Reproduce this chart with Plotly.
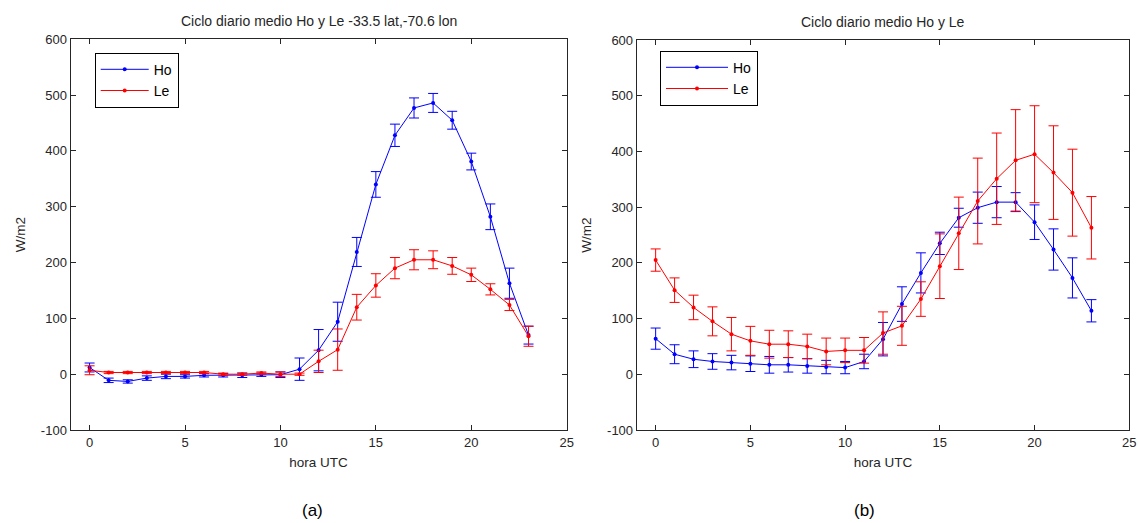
import plotly.graph_objects as go

hours = list(range(24))

# Panel (a)
ho_a = [12, -11, -13, -7, -4, -4, -2, -2, -2, -1, -1, 9, 43, 94, 219, 340, 428, 477, 486, 455, 381, 282, 163, 70]
ho_a_err = [8, 4, 3, 4, 4, 3, 3, 3, 4, 3, 5, 20, 37, 35, 26, 23, 20, 18, 17, 16, 15, 23, 27, 16]
le_a = [7, 3, 3, 3, 3, 3, 3, 0, 0, 2, 0, 0, 23, 44, 120, 159, 190, 205, 205, 194, 178, 152, 124, 68]
le_a_err = [8, 2, 2, 2, 2, 2, 2, 2, 2, 2, 4, 2, 20, 37, 23, 21, 19, 18, 16, 15, 12, 10, 10, 18]

# Panel (b)
ho_b = [64, 36, 27, 23, 21, 19, 17, 17, 15, 13, 12, 23, 63, 126, 182, 235, 281, 299, 309, 309, 273, 224, 173, 114]
ho_b_err = [19, 17, 15, 14, 13, 14, 15, 13, 13, 12, 11, 13, 30, 31, 36, 20, 17, 28, 28, 17, 31, 37, 36, 20]
le_b = [205, 151, 120, 95, 72, 60, 54, 54, 50, 41, 43, 43, 74, 87, 135, 194, 253, 311, 351, 384, 395, 362, 326, 263]
le_b_err = [20, 22, 22, 26, 30, 26, 25, 24, 22, 24, 22, 23, 38, 35, 31, 58, 65, 77, 82, 91, 87, 84, 78, 56]

titles = ["Ciclo diario medio Ho y Le -33.5 lat,-70.6 lon", "Ciclo diario medio Ho y Le"]
x_ticks = [0, 5, 10, 15, 20, 25]
y_ticks = [-100, 0, 100, 200, 300, 400, 500, 600]
y_ticktext = [str(v) for v in y_ticks]

BLUE = "#0000ff"
RED = "#ff0000"
AXC = "#262626"
FONT = "Liberation Sans, Arial, sans-serif"
W, H = 1138, 523

fig = go.Figure()

def add_series(x, y, err, color, name, xa, ya, legend):
    fig.add_trace(go.Scatter(
        x=x, y=y, name=name, mode="lines+markers",
        line=dict(color=color, width=1),
        marker=dict(color=color, size=4),
        error_y=dict(type="data", array=err, visible=True, color=color, thickness=1, width=5),
        xaxis=xa, yaxis=ya, legend=legend, showlegend=True,
    ))

add_series(hours, ho_a, ho_a_err, BLUE, "Ho", "x", "y", "legend")
add_series(hours, le_a, le_a_err, RED, "Le", "x", "y", "legend")
add_series(hours, ho_b, ho_b_err, BLUE, "Ho", "x2", "y2", "legend2")
add_series(hours, le_b, le_b_err, RED, "Le", "x2", "y2", "legend2")

def px_x(p):
    return p / W

def px_y(p):
    return 1 - p / H

axis_common = dict(
    showline=True, linecolor=AXC, linewidth=1, mirror="allticks",
    ticks="inside", ticklen=5, tickcolor=AXC, showgrid=False, zeroline=False,
    automargin=False,
    tickfont=dict(family=FONT, size=13, color=AXC),
)
xt = dict(text="hora UTC", standoff=8, font=dict(family=FONT, size=13.5, color=AXC))
yt = dict(text="W/m2", standoff=12, font=dict(family=FONT, size=13.5, color=AXC))

def ann(text, x, y, size, color):
    return dict(text=text, x=px_x(x), y=px_y(y), xref="paper", yref="paper",
                xanchor="center", yanchor="middle", showarrow=False,
                font=dict(family=FONT, size=size, color=color))

fig.update_layout(
    width=W, height=H, margin=dict(l=0, r=0, t=0, b=0, autoexpand=False),
    paper_bgcolor="white", plot_bgcolor="white",
    font=dict(family=FONT, size=13, color=AXC),
    xaxis=dict(domain=[px_x(70.5), px_x(566.7)], range=[-1, 25], tickvals=x_ticks, anchor="y",
               title=xt, **axis_common),
    yaxis=dict(domain=[px_y(430), px_y(39.3)], range=[-100, 600], tickvals=y_ticks,
               ticktext=y_ticktext, anchor="x", title=yt, **axis_common),
    xaxis2=dict(domain=[px_x(636.7), px_x(1129.3)], range=[-1, 25], tickvals=x_ticks, anchor="y2",
                title=xt, **axis_common),
    yaxis2=dict(domain=[px_y(430), px_y(40)], range=[-100, 600], tickvals=y_ticks,
                ticktext=y_ticktext, anchor="x2", title=yt, **axis_common),
    legend=dict(x=px_x(94.7), y=px_y(52.7), xanchor="left", yanchor="top",
                bordercolor="#000000", borderwidth=1, bgcolor="white", itemwidth=48,
                font=dict(family=FONT, size=14, color="#000000"), tracegroupgap=0),
    legend2=dict(x=px_x(660), y=px_y(50.7), xanchor="left", yanchor="top",
                 bordercolor="#000000", borderwidth=1, bgcolor="white", itemwidth=62,
                 font=dict(family=FONT, size=14, color="#000000"), tracegroupgap=0),
    annotations=[
        ann(titles[0], 318.6, 21, 14, AXC),
        ann(titles[1], 883, 22, 14, AXC),
        ann("(a)", 312, 510, 17, "#000000"),
        ann("(b)", 864, 510, 17, "#000000"),
    ],
)

fig.write_html("out.html")
